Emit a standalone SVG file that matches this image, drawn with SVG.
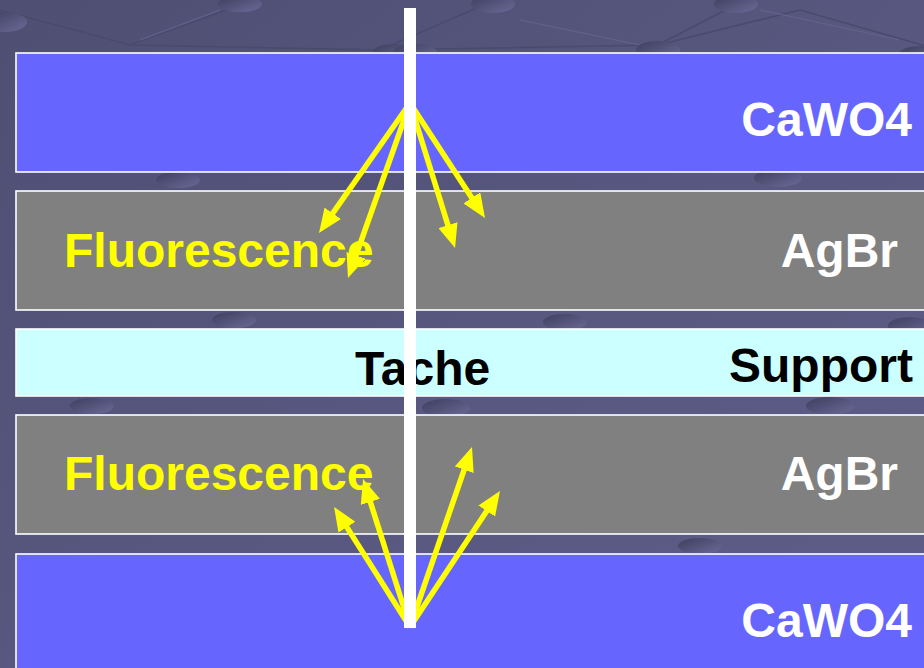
<svg xmlns="http://www.w3.org/2000/svg" width="924" height="668" viewBox="0 0 924 668">
  <style>
    .layer { stroke: #ffffff; stroke-width: 1.6; }
    .cawo4 { fill: #6666ff; }
    .agbr { fill: #808080; }
    .support { fill: #ccffff; }
    .lbl { font-family: "Liberation Sans", Arial, sans-serif; font-weight: bold; font-size: 48px; }
    .white { fill: #ffffff; }
    .yellow { fill: #ffff00; }
    .black { fill: #000000; }
    .end { text-anchor: end; }
    .ray { stroke: #ffff00; stroke-width: 5.5; fill: none; marker-end: url(#head); }
    .net { stroke: #4a4a6e; stroke-width: 1.5; fill: none; }
    .net2 { stroke: #62628c; stroke-width: 1.2; fill: none; }
    .dot { fill: url(#dotGrad); }
  </style>
  <defs>
    <linearGradient id="bgGrad" x1="0" y1="0" x2="1" y2="1">
      <stop offset="0" stop-color="#4f4f74"/>
      <stop offset="0.5" stop-color="#57577f"/>
      <stop offset="1" stop-color="#5d5d89"/>
    </linearGradient>
    <linearGradient id="dotGrad" x1="0" y1="0" x2="1" y2="1">
      <stop offset="0" stop-color="#3e3e5e"/>
      <stop offset="1" stop-color="#6a6a98"/>
    </linearGradient>
    <marker id="head" viewBox="0 0 24 20" refX="9" refY="10" markerWidth="24" markerHeight="20" markerUnits="userSpaceOnUse" orient="auto">
      <path d="M0,0 L24,10 L0,20 Z" fill="#ffff00"/>
    </marker>
  </defs>

  <!-- backdrop with faint molecular network -->
  <rect x="0" y="0" width="924" height="668" fill="url(#bgGrad)"/>
  <g id="backdrop">
    <path class="net" d="M0,10 L130,45 L240,5 M130,45 L380,50 L495,0 M380,50 L658,45 L735,5 M658,45 L800,10 L940,50"/>
    <path class="net2" d="M140,40 L220,10 M520,20 L640,45 M760,10 L900,40"/>
    <ellipse class="dot" cx="5" cy="22" rx="22" ry="10"/>
    <ellipse class="dot" cx="240" cy="4" rx="22" ry="8"/>
    <ellipse class="dot" cx="395" cy="52" rx="22" ry="8"/>
    <ellipse class="dot" cx="493" cy="4" rx="22" ry="9"/>
    <ellipse class="dot" cx="736" cy="4" rx="22" ry="9"/>
    <ellipse class="dot" cx="658" cy="50" rx="22" ry="9"/>
    <ellipse class="dot" cx="415" cy="52" rx="22" ry="8"/>
    <ellipse class="dot" cx="920" cy="55" rx="22" ry="9"/>
    <ellipse class="dot" cx="178" cy="180" rx="22" ry="8"/>
    <ellipse class="dot" cx="778" cy="178" rx="24" ry="9"/>
    <ellipse class="dot" cx="234" cy="320" rx="22" ry="8"/>
    <ellipse class="dot" cx="565" cy="322" rx="22" ry="8"/>
    <ellipse class="dot" cx="910" cy="326" rx="22" ry="9"/>
    <ellipse class="dot" cx="92" cy="406" rx="22" ry="8"/>
    <ellipse class="dot" cx="446" cy="408" rx="24" ry="9"/>
    <ellipse class="dot" cx="830" cy="406" rx="24" ry="9"/>
    <ellipse class="dot" cx="700" cy="546" rx="22" ry="8"/>
  </g>

  <!-- film layers -->
  <g id="cawo4-top">
    <rect class="layer cawo4" x="16" y="53" width="920" height="119"/>
    <text class="lbl white end" x="912" y="136">CaWO4</text>
  </g>
  <g id="agbr-top">
    <rect class="layer agbr" x="16" y="191" width="920" height="119"/>
    <text class="lbl white end" x="898" y="267">AgBr</text>
    <text class="lbl yellow" x="64" y="267">Fluorescence</text>
  </g>
  <g id="support">
    <rect class="layer support" x="16" y="329" width="920" height="67"/>
    <text class="lbl black" x="355" y="385">Tache</text>
    <text class="lbl black end" x="913" y="382">Support</text>
  </g>
  <g id="agbr-bottom">
    <rect class="layer agbr" x="16" y="415" width="920" height="119"/>
    <text class="lbl white end" x="898" y="490">AgBr</text>
    <text class="lbl yellow" x="64" y="490">Fluorescence</text>
  </g>
  <g id="cawo4-bottom">
    <rect class="layer cawo4" x="16" y="554" width="920" height="130"/>
    <text class="lbl white end" x="912" y="637">CaWO4</text>
  </g>

  <!-- fluorescence rays emitted in the screens -->
  <g id="connectors">
    <path class="ray" d="M410,103 L327.6,220.7"/>
    <path class="ray" d="M410,103 L353.0,263.9"/>
    <path class="ray" d="M410,103 L450.6,233.7"/>
    <path class="ray" d="M410,103 L476.8,205.4"/>
    <path class="ray" d="M410,627 L342.1,519.6"/>
    <path class="ray" d="M410,627 L367.6,493.3"/>
    <path class="ray" d="M410,627 L467.1,461.2"/>
    <path class="ray" d="M410,627 L491.7,503.5"/>
  </g>

  <!-- incident X-ray beam -->
  <g id="beam">
    <rect x="404" y="8" width="12" height="620" fill="#ffffff"/>
  </g>
</svg>
